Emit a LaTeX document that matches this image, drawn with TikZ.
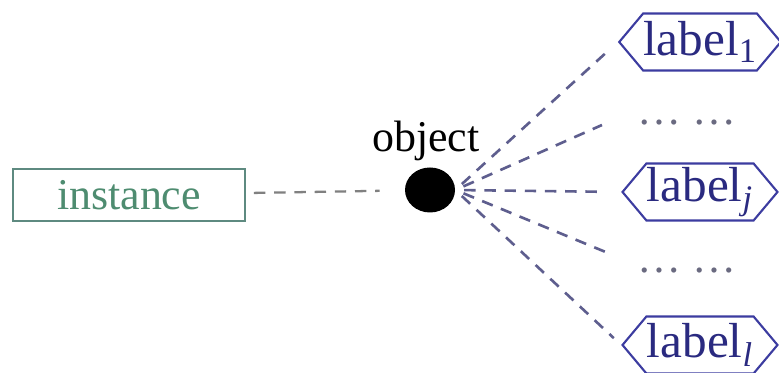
\documentclass[tikz,border=0pt]{standalone}
\usepackage{fontspec}
\setmainfont{Liberation Serif}
\usepackage{xcolor}
\usepackage{tikz}
\usetikzlibrary{shapes.symbols,shapes.geometric}

\definecolor{instgreen}{HTML}{4E8C70}
\definecolor{instframe}{HTML}{5E8A80}
\definecolor{labblue}{HTML}{3C3CA0}
\definecolor{labtext}{HTML}{2A2A80}
\definecolor{linkblue}{HTML}{5E5E8E}
\definecolor{dotgray}{HTML}{6A6A80}

\tikzset{
  link/.style={draw=linkblue, line width=1.5pt, dash pattern=on 6.5pt off 5pt},
  labelhex/.style={signal, signal to=west and east, signal pointer angle=100,
    draw=labblue, line width=1.2pt, text=labtext, minimum width=3.1cm,
    minimum height=1.14cm, inner sep=0pt, font=\fontsize{28}{32}\selectfont}
}

\begin{document}
\begin{tikzpicture}[font=\fontsize{25}{30}\selectfont]
\useasboundingbox (0,0) rectangle (15.58,7.46);
\node[draw=instframe, line width=1.1pt, text=instgreen, minimum width=4.64cm, minimum height=1.04cm] (inst) at (2.58,3.56) {instance};
\node[ellipse, fill=black, minimum width=1.0cm, minimum height=0.9cm, inner sep=0pt] (obj) at (8.6,3.66) {};
\node[anchor=base] (objtxt) at (8.52,4.42) {object};
\node[labelhex] (lab1) at (14.0,6.62) {label\textsubscript{1}};
\node[labelhex] (labj) at (14.0,3.62) {label\textsubscript{\textit{j}}};
\node[labelhex] (labl) at (14.0,0.56) {label\textsubscript{\textit{l}}};
\node[text=dotgray] (dA) at (13.74,5.0) {\dots\ \dots};
\node[text=dotgray] (dB) at (13.74,2.04) {\dots\ \dots};
\coordinate (endA) at (12.04,4.96);
\coordinate (endB) at (12.16,2.4);
% links
\draw[draw=gray, line width=1.3pt, dash pattern=on 6.5pt off 5pt, shorten <=0.16cm, shorten >=0.5cm] (inst) -- (obj);
\draw[link, shorten <=5pt, shorten >=0.26cm] (obj.east) -- (lab1.west);
\draw[link, shorten <=5pt] (obj.east) -- (endA);
\draw[link, shorten <=5pt, shorten >=0.45cm] (obj.east) -- (labj.west);
\draw[link, shorten <=5pt] (obj.east) -- (endB);
\draw[link, shorten <=5pt, shorten >=0.2cm] (obj.east) -- (labl.west);
\end{tikzpicture}
\end{document}
